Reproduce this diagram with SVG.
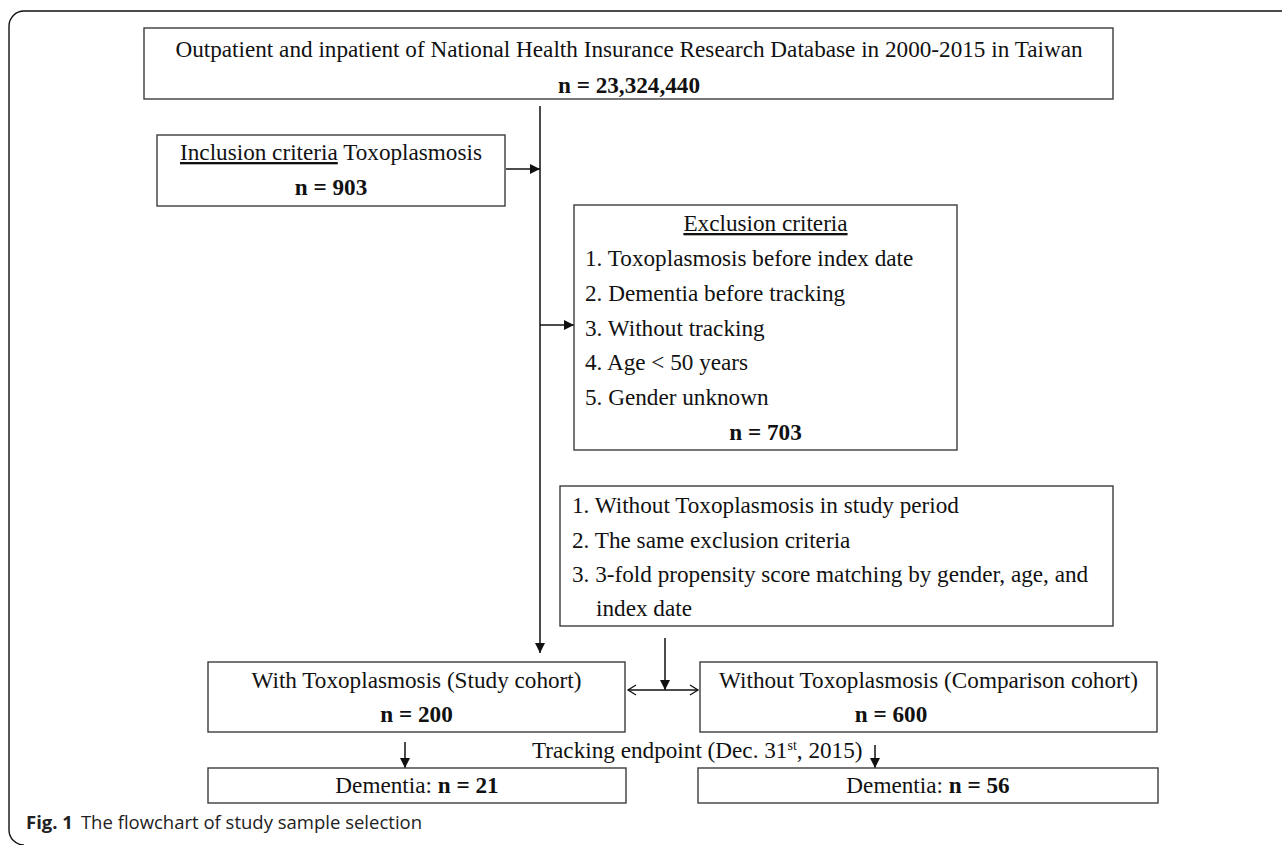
<svg xmlns="http://www.w3.org/2000/svg" width="1282" height="845" viewBox="0 0 1282 845">
<defs>
<style>
.box{fill:#fff;stroke:#3c3c3c;stroke-width:1.4}
.t{font-family:"Liberation Serif","Times New Roman",serif;font-size:23.2px;fill:#111}
.c{text-anchor:middle}
.b{font-weight:bold}
.u{text-decoration:underline}
.ln{fill:none;stroke:#111;stroke-width:1.5}
.cap{font-family:"Open Sans","Noto Sans",sans-serif;font-size:18.5px;fill:#222}
</style>
<marker id="ah" markerUnits="userSpaceOnUse" markerWidth="12" markerHeight="12" refX="10" refY="5" orient="auto">
<path d="M0,0 L10,5 L0,10 Z" fill="#111"/>
</marker>
<marker id="oh" markerUnits="userSpaceOnUse" markerWidth="12" markerHeight="14" refX="9" refY="6" orient="auto-start-reverse">
<path d="M1,1 L9,6 L1,11" fill="none" stroke="#111" stroke-width="1.3"/>
</marker>
</defs>
<rect width="1282" height="845" fill="#fff"/>
<path d="M1282,11 H24 A15,15 0 0 0 9,26 V830 A15,15 0 0 0 24,845" fill="none" stroke="#111" stroke-width="1.4"/>

<g id="connectors">
<line class="ln" x1="540" y1="106" x2="540" y2="653" marker-end="url(#ah)"/>
<line class="ln" x1="506" y1="169" x2="540" y2="169" marker-end="url(#ah)"/>
<line class="ln" x1="540" y1="325" x2="574" y2="325" marker-end="url(#ah)"/>
<line class="ln" x1="665" y1="638" x2="665" y2="690" marker-end="url(#ah)"/>
<line class="ln" x1="628" y1="690" x2="698" y2="690" marker-start="url(#oh)" marker-end="url(#oh)"/>
<line class="ln" x1="405" y1="742" x2="405" y2="768" marker-end="url(#ah)"/>
<line class="ln" x1="875" y1="745" x2="875" y2="768" marker-end="url(#ah)"/>
</g>

<g id="source">
<rect class="box" x="144" y="28" width="969" height="71"/>
<text class="t c" x="629" y="57">Outpatient and inpatient of National Health Insurance Research Database in 2000-2015 in Taiwan</text>
<text class="t c b" x="629" y="93">n = 23,324,440</text>
</g>

<g id="inclusion">
<rect class="box" x="157" y="135" width="348" height="71"/>
<text class="t c" x="331" y="160"><tspan class="u">Inclusion criteria</tspan> Toxoplasmosis</text>
<text class="t c b" x="331" y="195">n = 903</text>
</g>

<g id="exclusion">
<rect class="box" x="574" y="205" width="383" height="245"/>
<text class="t c u" x="765.5" y="231">Exclusion criteria</text>
<text class="t" x="585" y="266">1. Toxoplasmosis before index date</text>
<text class="t" x="585" y="301">2. Dementia before tracking</text>
<text class="t" x="585" y="336">3. Without tracking</text>
<text class="t" x="585" y="370">4. Age &lt; 50 years</text>
<text class="t" x="585" y="405">5. Gender unknown</text>
<text class="t c b" x="765.5" y="440">n = 703</text>
</g>

<g id="matching">
<rect class="box" x="560" y="486" width="553" height="140"/>
<text class="t" x="572" y="513">1. Without Toxoplasmosis in study period</text>
<text class="t" x="572" y="548">2. The same exclusion criteria</text>
<text class="t" x="572" y="582">3. 3-fold propensity score matching by gender, age, and</text>
<text class="t" x="596" y="616">index date</text>
</g>

<g id="study">
<rect class="box" x="208" y="662" width="417" height="70"/>
<text class="t c" x="416.5" y="688">With Toxoplasmosis (Study cohort)</text>
<text class="t c b" x="416.5" y="722">n = 200</text>
</g>

<g id="comparison">
<rect class="box" x="700" y="662" width="457" height="70"/>
<text class="t c" x="928.5" y="688">Without Toxoplasmosis (Comparison cohort)</text>
<text class="t c b" x="891" y="722">n = 600</text>
</g>

<g id="tracking">
<text class="t" x="532" y="758">Tracking endpoint (Dec. 31<tspan font-size="14" dy="-8">st</tspan><tspan dy="8">, 2015)</tspan></text>
</g>

<g id="dementia-study">
<rect class="box" x="208" y="768" width="418" height="35"/>
<text class="t c" x="417" y="793">Dementia: <tspan class="b">n = 21</tspan></text>
</g>

<g id="dementia-comparison">
<rect class="box" x="698" y="768" width="460" height="35"/>
<text class="t c" x="928" y="793">Dementia: <tspan class="b">n = 56</tspan></text>
</g>

<g id="caption">
<text class="cap" x="26" y="829"><tspan font-weight="bold">Fig. 1</tspan><tspan dx="8">The flowchart of study sample selection</tspan></text>
</g>
</svg>
